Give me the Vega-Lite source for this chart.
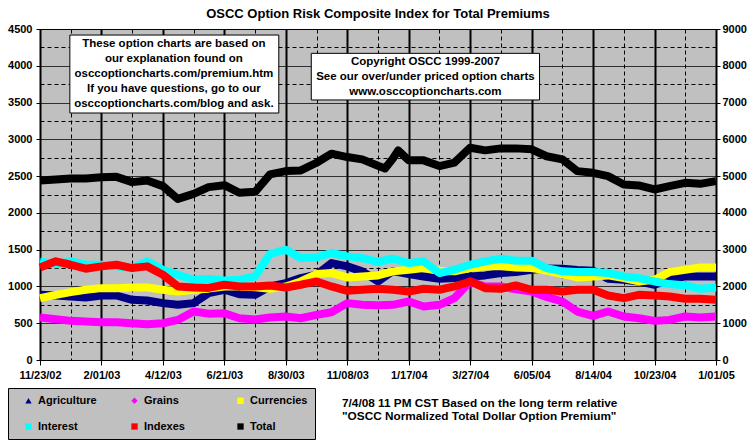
{
"$schema":"https://vega.github.io/schema/vega-lite/v6.json",
"width":676,"height":331,
"autosize":{"type":"none"},
"padding":{"left":40,"top":29,"right":39,"bottom":86},
"background":"white",
"config":{"view":{"fill":"#C0C0C0","stroke":"black","strokeWidth":1},"font":"Liberation Sans",
 "axis":{"labelOverlap":false,"labelBound":false,"labelFlush":false,"labelFont":"Liberation Sans","labelFontSize":11,"labelFontWeight":"bold","labelColor":"black","tickColor":"black","domainColor":"black","gridColor":"black","gridOpacity":1,"title":null}},
"title":{"text":"OSCC Option Risk Composite Index for Total Premiums","font":"Liberation Sans","fontSize":13,"fontWeight":"bold","color":"black","anchor":"middle","frame":"group","offset":2},
"datasets":{
"series":[
{"d":"2002-11-23","s":"Agriculture","v":886},{"d":"2002-12-11","s":"Agriculture","v":877},{"d":"2002-12-28","s":"Agriculture","v":864},{"d":"2003-01-14","s":"Agriculture","v":850},{"d":"2003-02-01","s":"Agriculture","v":877},{"d":"2003-02-18","s":"Agriculture","v":877},{"d":"2003-03-08","s":"Agriculture","v":818},{"d":"2003-03-25","s":"Agriculture","v":809},{"d":"2003-04-12","s":"Agriculture","v":773},{"d":"2003-04-29","s":"Agriculture","v":750},{"d":"2003-05-17","s":"Agriculture","v":773},{"d":"2003-06-03","s":"Agriculture","v":910},{"d":"2003-06-21","s":"Agriculture","v":955},{"d":"2003-07-08","s":"Agriculture","v":895},{"d":"2003-07-26","s":"Agriculture","v":886},{"d":"2003-08-12","s":"Agriculture","v":1000},{"d":"2003-08-30","s":"Agriculture","v":1045},{"d":"2003-09-16","s":"Agriculture","v":1114},{"d":"2003-10-04","s":"Agriculture","v":1159},{"d":"2003-10-21","s":"Agriculture","v":1318},{"d":"2003-11-08","s":"Agriculture","v":1273},{"d":"2003-11-25","s":"Agriculture","v":1205},{"d":"2003-12-13","s":"Agriculture","v":1068},{"d":"2003-12-30","s":"Agriculture","v":1210},{"d":"2004-01-17","s":"Agriculture","v":1168},{"d":"2004-02-03","s":"Agriculture","v":1136},{"d":"2004-02-21","s":"Agriculture","v":1105},{"d":"2004-03-09","s":"Agriculture","v":1114},{"d":"2004-03-27","s":"Agriculture","v":1136},{"d":"2004-04-13","s":"Agriculture","v":1150},{"d":"2004-05-01","s":"Agriculture","v":1182},{"d":"2004-05-18","s":"Agriculture","v":1195},{"d":"2004-06-05","s":"Agriculture","v":1227},{"d":"2004-06-22","s":"Agriculture","v":1245},{"d":"2004-07-10","s":"Agriculture","v":1241},{"d":"2004-07-27","s":"Agriculture","v":1223},{"d":"2004-08-14","s":"Agriculture","v":1214},{"d":"2004-08-31","s":"Agriculture","v":1104},{"d":"2004-09-18","s":"Agriculture","v":1091},{"d":"2004-10-05","s":"Agriculture","v":1068},{"d":"2004-10-23","s":"Agriculture","v":1023},{"d":"2004-11-09","s":"Agriculture","v":1091},{"d":"2004-11-27","s":"Agriculture","v":1136},{"d":"2004-12-14","s":"Agriculture","v":1136},{"d":"2005-01-01","s":"Agriculture","v":1136},
{"d":"2002-11-23","s":"Grains","v":577},{"d":"2002-12-11","s":"Grains","v":555},{"d":"2002-12-28","s":"Grains","v":532},{"d":"2003-01-14","s":"Grains","v":523},{"d":"2003-02-01","s":"Grains","v":514},{"d":"2003-02-18","s":"Grains","v":514},{"d":"2003-03-08","s":"Grains","v":500},{"d":"2003-03-25","s":"Grains","v":486},{"d":"2003-04-12","s":"Grains","v":500},{"d":"2003-04-29","s":"Grains","v":545},{"d":"2003-05-17","s":"Grains","v":659},{"d":"2003-06-03","s":"Grains","v":630},{"d":"2003-06-21","s":"Grains","v":636},{"d":"2003-07-08","s":"Grains","v":568},{"d":"2003-07-26","s":"Grains","v":550},{"d":"2003-08-12","s":"Grains","v":577},{"d":"2003-08-30","s":"Grains","v":591},{"d":"2003-09-16","s":"Grains","v":568},{"d":"2003-10-04","s":"Grains","v":614},{"d":"2003-10-21","s":"Grains","v":650},{"d":"2003-11-08","s":"Grains","v":773},{"d":"2003-11-25","s":"Grains","v":750},{"d":"2003-12-13","s":"Grains","v":745},{"d":"2003-12-30","s":"Grains","v":750},{"d":"2004-01-17","s":"Grains","v":795},{"d":"2004-02-03","s":"Grains","v":727},{"d":"2004-02-21","s":"Grains","v":750},{"d":"2004-03-09","s":"Grains","v":841},{"d":"2004-03-27","s":"Grains","v":1068},{"d":"2004-04-13","s":"Grains","v":1000},{"d":"2004-05-01","s":"Grains","v":1000},{"d":"2004-05-18","s":"Grains","v":960},{"d":"2004-06-05","s":"Grains","v":932},{"d":"2004-06-22","s":"Grains","v":857},{"d":"2004-07-10","s":"Grains","v":795},{"d":"2004-07-27","s":"Grains","v":659},{"d":"2004-08-14","s":"Grains","v":600},{"d":"2004-08-31","s":"Grains","v":659},{"d":"2004-09-18","s":"Grains","v":591},{"d":"2004-10-05","s":"Grains","v":568},{"d":"2004-10-23","s":"Grains","v":532},{"d":"2004-11-09","s":"Grains","v":545},{"d":"2004-11-27","s":"Grains","v":591},{"d":"2004-12-14","s":"Grains","v":577},{"d":"2005-01-01","s":"Grains","v":591},
{"d":"2002-11-23","s":"Currencies","v":841},{"d":"2002-12-11","s":"Currencies","v":886},{"d":"2002-12-28","s":"Currencies","v":923},{"d":"2003-01-14","s":"Currencies","v":955},{"d":"2003-02-01","s":"Currencies","v":977},{"d":"2003-02-18","s":"Currencies","v":977},{"d":"2003-03-08","s":"Currencies","v":986},{"d":"2003-03-25","s":"Currencies","v":986},{"d":"2003-04-12","s":"Currencies","v":955},{"d":"2003-04-29","s":"Currencies","v":932},{"d":"2003-05-17","s":"Currencies","v":955},{"d":"2003-06-03","s":"Currencies","v":970},{"d":"2003-06-21","s":"Currencies","v":1000},{"d":"2003-07-08","s":"Currencies","v":1000},{"d":"2003-07-26","s":"Currencies","v":990},{"d":"2003-08-12","s":"Currencies","v":968},{"d":"2003-08-30","s":"Currencies","v":1000},{"d":"2003-09-16","s":"Currencies","v":1068},{"d":"2003-10-04","s":"Currencies","v":1168},{"d":"2003-10-21","s":"Currencies","v":1182},{"d":"2003-11-08","s":"Currencies","v":1123},{"d":"2003-11-25","s":"Currencies","v":1136},{"d":"2003-12-13","s":"Currencies","v":1150},{"d":"2003-12-30","s":"Currencies","v":1205},{"d":"2004-01-17","s":"Currencies","v":1227},{"d":"2004-02-03","s":"Currencies","v":1250},{"d":"2004-02-21","s":"Currencies","v":1214},{"d":"2004-03-09","s":"Currencies","v":1205},{"d":"2004-03-27","s":"Currencies","v":1250},{"d":"2004-04-13","s":"Currencies","v":1273},{"d":"2004-05-01","s":"Currencies","v":1273},{"d":"2004-05-18","s":"Currencies","v":1259},{"d":"2004-06-05","s":"Currencies","v":1250},{"d":"2004-06-22","s":"Currencies","v":1216},{"d":"2004-07-10","s":"Currencies","v":1168},{"d":"2004-07-27","s":"Currencies","v":1123},{"d":"2004-08-14","s":"Currencies","v":1136},{"d":"2004-08-31","s":"Currencies","v":1150},{"d":"2004-09-18","s":"Currencies","v":1114},{"d":"2004-10-05","s":"Currencies","v":1068},{"d":"2004-10-23","s":"Currencies","v":1090},{"d":"2004-11-09","s":"Currencies","v":1195},{"d":"2004-11-27","s":"Currencies","v":1227},{"d":"2004-12-14","s":"Currencies","v":1259},{"d":"2005-01-01","s":"Currencies","v":1259},
{"d":"2002-11-23","s":"Interest","v":1341},{"d":"2002-12-11","s":"Interest","v":1300},{"d":"2002-12-28","s":"Interest","v":1341},{"d":"2003-01-14","s":"Interest","v":1295},{"d":"2003-02-01","s":"Interest","v":1295},{"d":"2003-02-18","s":"Interest","v":1273},{"d":"2003-03-08","s":"Interest","v":1250},{"d":"2003-03-25","s":"Interest","v":1341},{"d":"2003-04-12","s":"Interest","v":1227},{"d":"2003-04-29","s":"Interest","v":1159},{"d":"2003-05-17","s":"Interest","v":1091},{"d":"2003-06-03","s":"Interest","v":1100},{"d":"2003-06-21","s":"Interest","v":1082},{"d":"2003-07-08","s":"Interest","v":1091},{"d":"2003-07-26","s":"Interest","v":1136},{"d":"2003-08-12","s":"Interest","v":1441},{"d":"2003-08-30","s":"Interest","v":1500},{"d":"2003-09-16","s":"Interest","v":1386},{"d":"2003-10-04","s":"Interest","v":1395},{"d":"2003-10-21","s":"Interest","v":1455},{"d":"2003-11-08","s":"Interest","v":1409},{"d":"2003-11-25","s":"Interest","v":1386},{"d":"2003-12-13","s":"Interest","v":1336},{"d":"2003-12-30","s":"Interest","v":1377},{"d":"2004-01-17","s":"Interest","v":1318},{"d":"2004-02-03","s":"Interest","v":1341},{"d":"2004-02-21","s":"Interest","v":1182},{"d":"2004-03-09","s":"Interest","v":1227},{"d":"2004-03-27","s":"Interest","v":1295},{"d":"2004-04-13","s":"Interest","v":1341},{"d":"2004-05-01","s":"Interest","v":1377},{"d":"2004-05-18","s":"Interest","v":1350},{"d":"2004-06-05","s":"Interest","v":1350},{"d":"2004-06-22","s":"Interest","v":1250},{"d":"2004-07-10","s":"Interest","v":1205},{"d":"2004-07-27","s":"Interest","v":1195},{"d":"2004-08-14","s":"Interest","v":1195},{"d":"2004-08-31","s":"Interest","v":1182},{"d":"2004-09-18","s":"Interest","v":1136},{"d":"2004-10-05","s":"Interest","v":1114},{"d":"2004-10-23","s":"Interest","v":1068},{"d":"2004-11-09","s":"Interest","v":1032},{"d":"2004-11-27","s":"Interest","v":1014},{"d":"2004-12-14","s":"Interest","v":968},{"d":"2005-01-01","s":"Interest","v":986},
{"d":"2002-11-23","s":"Indexes","v":1259},{"d":"2002-12-11","s":"Indexes","v":1341},{"d":"2002-12-28","s":"Indexes","v":1295},{"d":"2003-01-14","s":"Indexes","v":1241},{"d":"2003-02-01","s":"Indexes","v":1273},{"d":"2003-02-18","s":"Indexes","v":1295},{"d":"2003-03-08","s":"Indexes","v":1250},{"d":"2003-03-25","s":"Indexes","v":1273},{"d":"2003-04-12","s":"Indexes","v":1159},{"d":"2003-04-29","s":"Indexes","v":1000},{"d":"2003-05-17","s":"Indexes","v":986},{"d":"2003-06-03","s":"Indexes","v":980},{"d":"2003-06-21","s":"Indexes","v":1023},{"d":"2003-07-08","s":"Indexes","v":1000},{"d":"2003-07-26","s":"Indexes","v":1000},{"d":"2003-08-12","s":"Indexes","v":1014},{"d":"2003-08-30","s":"Indexes","v":986},{"d":"2003-09-16","s":"Indexes","v":1023},{"d":"2003-10-04","s":"Indexes","v":1068},{"d":"2003-10-21","s":"Indexes","v":1000},{"d":"2003-11-08","s":"Indexes","v":941},{"d":"2003-11-25","s":"Indexes","v":955},{"d":"2003-12-13","s":"Indexes","v":968},{"d":"2003-12-30","s":"Indexes","v":955},{"d":"2004-01-17","s":"Indexes","v":932},{"d":"2004-02-03","s":"Indexes","v":968},{"d":"2004-02-21","s":"Indexes","v":955},{"d":"2004-03-09","s":"Indexes","v":1000},{"d":"2004-03-27","s":"Indexes","v":1068},{"d":"2004-04-13","s":"Indexes","v":977},{"d":"2004-05-01","s":"Indexes","v":968},{"d":"2004-05-18","s":"Indexes","v":1014},{"d":"2004-06-05","s":"Indexes","v":955},{"d":"2004-06-22","s":"Indexes","v":955},{"d":"2004-07-10","s":"Indexes","v":932},{"d":"2004-07-27","s":"Indexes","v":955},{"d":"2004-08-14","s":"Indexes","v":955},{"d":"2004-08-31","s":"Indexes","v":877},{"d":"2004-09-18","s":"Indexes","v":841},{"d":"2004-10-05","s":"Indexes","v":886},{"d":"2004-10-23","s":"Indexes","v":877},{"d":"2004-11-09","s":"Indexes","v":864},{"d":"2004-11-27","s":"Indexes","v":832},{"d":"2004-12-14","s":"Indexes","v":832},{"d":"2005-01-01","s":"Indexes","v":818}
],
"total":[
{"d":"2002-11-23","v":4882},{"d":"2002-12-11","v":4910},{"d":"2002-12-28","v":4936},{"d":"2003-01-14","v":4936},{"d":"2003-02-01","v":4972},{"d":"2003-02-18","v":4980},{"d":"2003-03-08","v":4836},{"d":"2003-03-25","v":4882},{"d":"2003-04-12","v":4728},{"d":"2003-04-29","v":4380},{"d":"2003-05-17","v":4518},{"d":"2003-06-03","v":4700},{"d":"2003-06-21","v":4754},{"d":"2003-07-08","v":4546},{"d":"2003-07-26","v":4572},{"d":"2003-08-12","v":5046},{"d":"2003-08-30","v":5136},{"d":"2003-09-16","v":5154},{"d":"2003-10-04","v":5364},{"d":"2003-10-21","v":5610},{"d":"2003-11-08","v":5518},{"d":"2003-11-25","v":5454},{"d":"2003-12-13","v":5280},{"d":"2003-12-21","v":5210},{"d":"2003-12-30","v":5480},{"d":"2004-01-05","v":5700},{"d":"2004-01-17","v":5428},{"d":"2004-02-03","v":5428},{"d":"2004-02-21","v":5272},{"d":"2004-03-09","v":5364},{"d":"2004-03-27","v":5772},{"d":"2004-04-13","v":5700},{"d":"2004-05-01","v":5754},{"d":"2004-05-18","v":5754},{"d":"2004-06-05","v":5728},{"d":"2004-06-22","v":5540},{"d":"2004-07-10","v":5454},{"d":"2004-07-27","v":5136},{"d":"2004-08-14","v":5090},{"d":"2004-08-31","v":5000},{"d":"2004-09-18","v":4772},{"d":"2004-10-05","v":4746},{"d":"2004-10-23","v":4636},{"d":"2004-11-09","v":4728},{"d":"2004-11-27","v":4818},{"d":"2004-12-14","v":4790},{"d":"2005-01-01","v":4864}
]
},
"layer":[
{"data":{"name":"series"},
 "mark":{"type":"line","strokeWidth":8,"strokeJoin":"round","strokeCap":"butt"},
 "encoding":{
  "x":{"field":"d","type":"temporal","title":null,
   "scale":{"domain":[{"year":2002,"month":11,"date":23},{"year":2005,"month":1,"date":1}],"nice":false},
   "axis":{"orient":"bottom",
    "values":[{"year":2002,"month":11,"date":23},{"year":2002,"month":12,"date":28},{"year":2003,"month":2,"date":1},{"year":2003,"month":3,"date":8},{"year":2003,"month":4,"date":12},{"year":2003,"month":5,"date":17},{"year":2003,"month":6,"date":21},{"year":2003,"month":7,"date":26},{"year":2003,"month":8,"date":30},{"year":2003,"month":10,"date":4},{"year":2003,"month":11,"date":8},{"year":2003,"month":12,"date":13},{"year":2004,"month":1,"date":17},{"year":2004,"month":2,"date":21},{"year":2004,"month":3,"date":27},{"year":2004,"month":5,"date":1},{"year":2004,"month":6,"date":5},{"year":2004,"month":7,"date":10},{"year":2004,"month":8,"date":14},{"year":2004,"month":9,"date":18},{"year":2004,"month":10,"date":23},{"year":2004,"month":11,"date":27},{"year":2005,"month":1,"date":1}],
    "labelExpr":"round((time(datum.value) - time(datetime(2002,10,23))) / 86400000) % 70 === 0 ? timeFormat(datum.value, '%-m/%d/%y') : ''",
    "labelPadding":4,"grid":true,
    "gridDash":{"condition":{"test":"round((time(datum.value) - time(datetime(2002,10,23))) / 86400000) % 70 === 0","value":[1,0]},"value":[4,3]},
    "gridWidth":{"condition":{"test":"round((time(datum.value) - time(datetime(2002,10,23))) / 86400000) % 70 === 0","value":2},"value":1},
    "tickSize":5,"tickWidth":1,
    "tickOpacity":{"condition":{"test":"round((time(datum.value) - time(datetime(2002,10,23))) / 86400000) % 70 === 0","value":1},"value":0}}},
  "y":{"field":"v","type":"quantitative","title":null,
   "scale":{"domain":[0,4500],"nice":false},
   "axis":{"orient":"left",
    "values":[0,250,500,750,1000,1250,1500,1750,2000,2250,2500,2750,3000,3250,3500,3750,4000,4250,4500],
    "format":"d",
    "labelExpr":"datum.value % 500 === 0 ? datum.label : ''",
    "labelPadding":4,"grid":true,"gridWidth":1,
    "gridDash":{"condition":{"test":"datum.value % 500 === 0","value":[1,0]},"value":[4,3]},
    "tickSize":4,
    "tickOpacity":{"condition":{"test":"datum.value % 500 === 0","value":1},"value":0}}},
  "color":{"field":"s","type":"nominal",
   "scale":{"domain":["Agriculture","Grains","Currencies","Interest","Indexes","Total"],"range":["#000080","#FF00FF","#FFFF00","#00FFFF","#FF0000","#000000"]},
   "legend":{
    "orient":"none","legendX":-32,"legendY":359,"direction":"horizontal",
    "columns":3,"gridAlign":"all","columnPadding":32,"rowPadding":14,"padding":7,
    "fillColor":"#C0C0C0","strokeColor":"black",
    "title":"\u00a0","titleOrient":"left","titlePadding":8,"titleFontSize":11,
    "labelFont":"Liberation Sans","labelFontSize":11,"labelFontWeight":"bold","labelColor":"black","labelOffset":4,"labelLimit":200,
    "symbolType":"square","symbolSize":40,"symbolStrokeWidth":0,
    "encode":{"symbols":{"update":{
      "shape":{"signal":"datum.value === 'Agriculture' ? 'triangle-up' : datum.value === 'Grains' ? 'diamond' : 'square'"},
      "fill":{"scale":"color","field":"value"},
      "stroke":{"value":"transparent"},
      "opacity":{"value":1}}}}}}}},
{"data":{"name":"total"},
 "mark":{"type":"line","strokeWidth":8,"strokeJoin":"round","strokeCap":"butt","color":"black"},
 "encoding":{
  "x":{"field":"d","type":"temporal","axis":null,"scale":{"domain":[{"year":2002,"month":11,"date":23},{"year":2005,"month":1,"date":1}],"nice":false}},
  "y":{"field":"v","type":"quantitative","title":null,
   "scale":{"domain":[0,9000],"nice":false},
   "axis":{"orient":"right",
    "values":[0,1000,2000,3000,4000,5000,6000,7000,8000,9000],
    "format":"d","labelPadding":2,
    "grid":false,"tickSize":4}}}},
{"layer":[
{"data":{"values":[{}]},
 "mark":{"type":"rect","fill":"white","stroke":"black","strokeWidth":1},
 "encoding":{
  "x":{"datum":{"year":2002,"month":12,"date":27},"type":"temporal","scale":{"domain":[{"year":2002,"month":11,"date":23},{"year":2005,"month":1,"date":1}],"nice":false},"axis":null},
  "x2":{"datum":{"year":2003,"month":8,"date":22}},
  "y":{"datum":4418,"type":"quantitative","scale":{"domain":[0,4500],"nice":false},"axis":null},
  "y2":{"datum":3358}}},
{"data":{"values":[{"t":"These option charts are based on\nour explanation found on\nosccoptioncharts.com/premium.htm\nIf you have questions, go to our\nosccoptioncharts.com/blog and ask."}]},
 "mark":{"type":"text","lineBreak":"\n","lineHeight":15,"align":"center","baseline":"top","font":"Liberation Sans","fontSize":11.5,"fontWeight":"bold","color":"black"},
 "encoding":{
  "text":{"field":"t"},
  "x":{"datum":{"year":2003,"month":4,"date":24,"hours":12},"type":"temporal","scale":{"domain":[{"year":2002,"month":11,"date":23},{"year":2005,"month":1,"date":1}],"nice":false},"axis":null},
  "y":{"datum":4384,"type":"quantitative","scale":{"domain":[0,4500],"nice":false},"axis":null}}},
{"data":{"values":[{}]},
 "mark":{"type":"rect","fill":"white","stroke":"black","strokeWidth":1},
 "encoding":{
  "x":{"datum":{"year":2003,"month":9,"date":28},"type":"temporal","scale":{"domain":[{"year":2002,"month":11,"date":23},{"year":2005,"month":1,"date":1}],"nice":false},"axis":null},
  "x2":{"datum":{"year":2004,"month":6,"date":14}},
  "y":{"datum":4169,"type":"quantitative","scale":{"domain":[0,4500],"nice":false},"axis":null},
  "y2":{"datum":3535}}},
{"data":{"values":[{"t":"Copyright OSCC 1999-2007\nSee our over/under priced option charts\nwww.osccoptioncharts.com"}]},
 "mark":{"type":"text","lineBreak":"\n","lineHeight":15,"align":"center","baseline":"top","font":"Liberation Sans","fontSize":11.5,"fontWeight":"bold","color":"black"},
 "encoding":{
  "text":{"field":"t"},
  "x":{"datum":{"year":2004,"month":2,"date":5},"type":"temporal","scale":{"domain":[{"year":2002,"month":11,"date":23},{"year":2005,"month":1,"date":1}],"nice":false},"axis":null},
  "y":{"datum":4133,"type":"quantitative","scale":{"domain":[0,4500],"nice":false},"axis":null}}},
{"data":{"values":[{"t":"7/4/08 11 PM CST Based on the long term relative\n\"OSCC Normalized Total Dollar Option Premium\""}]},
 "mark":{"type":"text","lineBreak":"\n","lineHeight":13,"align":"left","baseline":"top","font":"Liberation Sans","fontSize":11.8,"fontWeight":"bold","color":"black"},
 "encoding":{
  "text":{"field":"t"},
  "x":{"datum":{"year":2003,"month":11,"date":2},"type":"temporal","scale":{"domain":[{"year":2002,"month":11,"date":23},{"year":2005,"month":1,"date":1}],"nice":false},"axis":null},
  "y":{"datum":-517,"type":"quantitative","scale":{"domain":[0,4500],"nice":false},"axis":null}}}
]}
],
"resolve":{"scale":{"x":"independent","y":"independent"}}
}
